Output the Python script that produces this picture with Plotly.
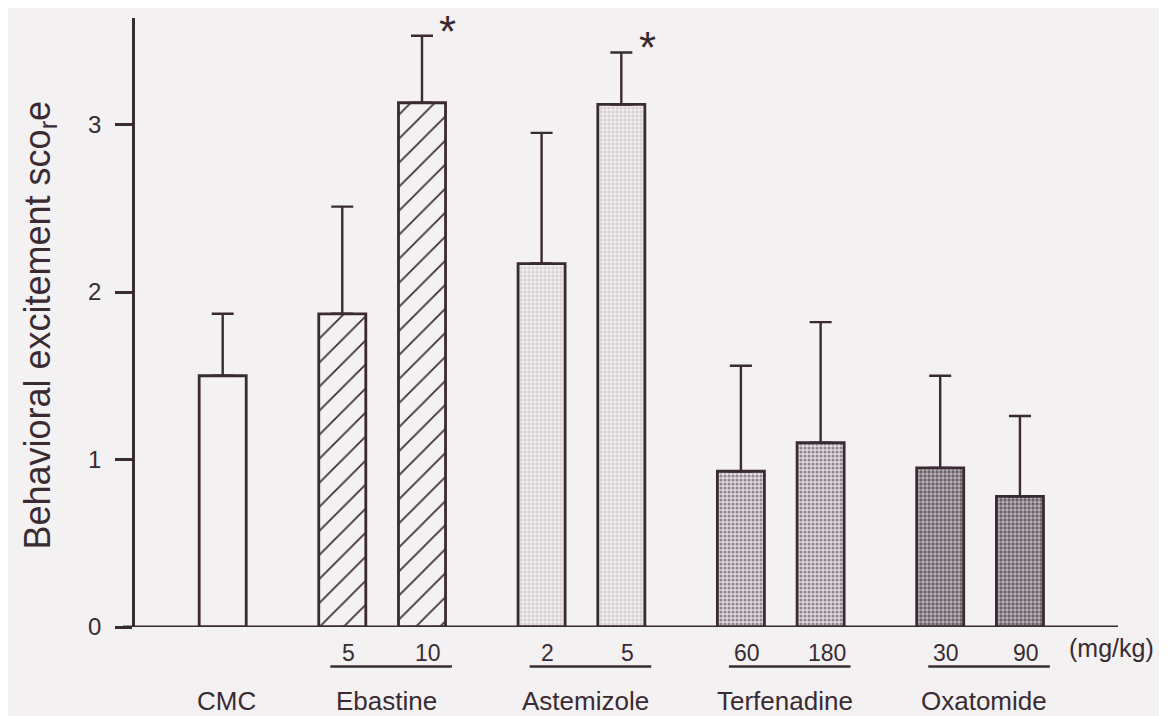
import plotly.graph_objects as go

# ---- data ----
groups = ["CMC", "Ebastine", "Astemizole", "Terfenadine", "Oxatomide"]
bar_group = ["CMC", "Ebastine", "Ebastine", "Astemizole", "Astemizole",
             "Terfenadine", "Terfenadine", "Oxatomide", "Oxatomide"]
dose_labels = ["", "5", "10", "2", "5", "60", "180", "30", "90"]
mean_score = [1.50, 1.87, 3.13, 2.17, 3.12, 0.93, 1.10, 0.95, 0.78]
sem_score = [0.37, 0.64, 0.40, 0.78, 0.31, 0.63, 0.72, 0.55, 0.48]
significant = [False, False, True, False, True, False, False, False, False]
y_ticks = [0, 1, 2, 3]
unit_label = "(mg/kg)"

# ---- styling ----
INK = "#3a2b33"
BG = "#f3f1f1"
FONT = "Liberation Sans, Arial, sans-serif"

fill_style = {
    "CMC": dict(color=BG),
    "Ebastine": dict(color=BG, pattern=dict(shape="/", fgcolor=INK, bgcolor=BG, fgopacity=1,
                                            size=17, solidity=0.1, fillmode="overlay")),
    "Astemizole": dict(color="#e9e5e8", pattern=dict(shape=".", fgcolor="#d6d0d4", bgcolor="#efecee", size=4, solidity=0.45, fillmode="replace")),
    "Terfenadine": dict(color="#c0b6be", pattern=dict(shape=".", fgcolor="#918692", bgcolor="#e3dde1", size=4, solidity=0.5, fillmode="replace")),
    "Oxatomide": dict(color="#9a909a", pattern=dict(shape=".", fgcolor="#6c616b", bgcolor="#c0b7be", size=4, solidity=0.55, fillmode="replace")),
}

# slot positions derived from grouping: 2 slots within a group, 3 between groups
positions = []
pos = 0
for i, g in enumerate(bar_group):
    if i > 0:
        pos += 2 if g == bar_group[i - 1] else 3
    positions.append(pos)

fig = go.Figure()
for g in groups:
    idx = [i for i, bg in enumerate(bar_group) if bg == g]
    fig.add_trace(go.Bar(
        x=[positions[i] for i in idx],
        y=[mean_score[i] for i in idx],
        width=1.18,
        marker=dict(**fill_style[g], line=dict(color=INK, width=2.8)),
        error_y=dict(type="data", array=[sem_score[i] for i in idx],
                     arrayminus=[0] * len(idx), symmetric=False,
                     color=INK, thickness=2.4, width=11),
        showlegend=False,
        hoverinfo="skip",
    ))

XMIN, XMAX = -2.2, 22.46
YMAX = 3.636

annotations = []
shapes = []

# x axis line (extends slightly left of y axis)
shapes.append(dict(type="line", xref="paper", yref="y", x0=-0.0122, x1=1.0, y0=0, y1=0,
                   line=dict(color=INK, width=3)))

# dose labels + underlines + group names
for g in groups:
    idx = [i for i, bg in enumerate(bar_group) if bg == g]
    xs = [positions[i] for i in idx]
    for i in idx:
        if dose_labels[i]:
            annotations.append(dict(x=positions[i] + 0.15, y=-0.043, xref="x", yref="paper",
                                    text=dose_labels[i], showarrow=False,
                                    font=dict(family=FONT, size=23, color=INK),
                                    xanchor="center", yanchor="middle"))
    if len(idx) > 1:
        shapes.append(dict(type="line", xref="x", yref="paper",
                           x0=xs[0] - 0.3, x1=xs[-1] + 0.75, y0=-0.065, y1=-0.065,
                           line=dict(color=INK, width=2.5)))
    cx = (xs[0] + xs[-1]) / 2 + 0.1
    annotations.append(dict(x=cx, y=-0.121, xref="x", yref="paper",
                            text=g, showarrow=False,
                            font=dict(family=FONT, size=26, color=INK),
                            xanchor="center", yanchor="middle"))

annotations.append(dict(x=positions[-1] + 2.3, y=-0.035, xref="x", yref="paper",
                        text=unit_label, showarrow=False,
                        font=dict(family=FONT, size=25, color=INK),
                        xanchor="center", yanchor="middle"))

# significance asterisks (compact text box so the glyph sits close to its top)
for i, s in enumerate(significant):
    if s:
        annotations.append(dict(x=positions[i] + 0.65, y=mean_score[i] + sem_score[i] + 0.085,
                                xref="x", yref="y", text="*", showarrow=False,
                                font=dict(family=FONT, size=44, color=INK),
                                height=30, valign="top",
                                xanchor="center", yanchor="middle"))

# y axis title
annotations.append(dict(x=-0.097, y=0.496, xref="paper", yref="paper",
                        text="Behavioral excitement sco<sub>r</sub>e", textangle=-90,
                        showarrow=False, font=dict(family=FONT, size=36, color=INK),
                        xanchor="center", yanchor="middle"))

fig.update_layout(
    width=1159, height=708,
    margin=dict(l=127, r=49, t=10, b=89),
    paper_bgcolor=BG, plot_bgcolor=BG,
    barmode="overlay",
    xaxis=dict(range=[XMIN, XMAX], showline=False, showgrid=False, zeroline=False,
               showticklabels=False, ticks=""),
    yaxis=dict(range=[0, YMAX], showline=True, linecolor=INK, linewidth=2.5,
               showgrid=False, zeroline=False, tickvals=y_ticks,
               ticks="outside", ticklen=17, tickwidth=2.5, tickcolor=INK,
               ticklabelstandoff=9,
               tickfont=dict(family=FONT, size=24, color=INK)),
    shapes=shapes,
    annotations=annotations,
)

fig.write_html("out.html")
